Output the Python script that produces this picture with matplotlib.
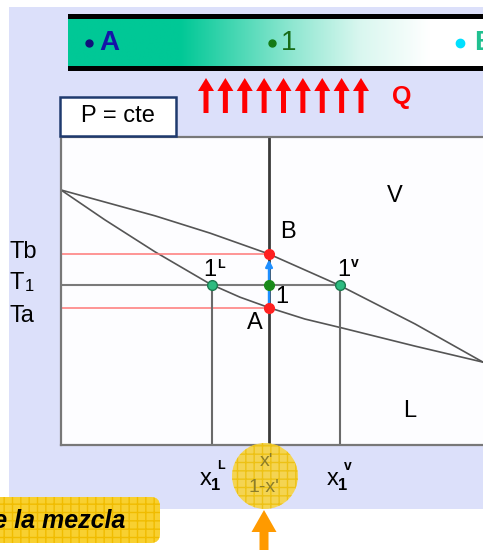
import matplotlib.pyplot as plt
import numpy as np
from matplotlib.patches import Rectangle, Circle, FancyArrow, FancyBboxPatch

plt.rcParams['font.family'] = ['Liberation Sans', 'DejaVu Sans']

# diagram values (composition of component 1 from 0 to 1, temperature in arbitrary units)
x_dew = [0.0, 0.223, 0.353, 0.493, 0.659, 0.839, 1.0]
T_dew = [82.8, 74.4, 68.8, 62.0, 51.9, 39.3, 26.9]
x_bub = [0.0, 0.104, 0.223, 0.353, 0.424, 0.495, 0.578, 0.666, 0.839, 1.0]
T_bub = [82.8, 73.1, 62.7, 52.3, 48.0, 44.5, 40.9, 38.0, 32.1, 26.9]

x_mix = 0.493
T_a = 44.5
T_b = 62.0
T_1 = 51.9
x1_L = 0.357
x1_V = 0.66
T_labels = ['Tb', 'T', 'Ta']
n_heat_arrows = 9

fig = plt.figure(figsize=(4.83, 5.5), dpi=100)
fig.patch.set_facecolor('white')

# background layer in pixel coords
ax0 = fig.add_axes([0, 0, 1, 1])
ax0.set_xlim(0, 483)
ax0.set_ylim(550, 0)
ax0.axis('off')
ax0.add_patch(Rectangle((9, 7), 480, 502, color='#dce0fa', lw=0))

# top gradient bar
cols = np.linspace(68, 483, 300)
white = np.interp(cols, [68, 180, 290, 360, 430, 483], [0, 0, 0.55, 0.85, 1, 1])
base = np.array([0, 200, 150]) / 255.0
grad = base[None, :] * (1 - white[:, None]) + white[:, None]
ax0.imshow(grad[None, :, :], extent=(68, 483, 66, 19), aspect='auto', zorder=2)
ax0.add_patch(Rectangle((68, 14), 420, 5, color='black', lw=0, zorder=3))
ax0.add_patch(Rectangle((68, 66), 420, 5, color='black', lw=0, zorder=3))
ax0.plot(89, 43, 'o', color='#10107a', ms=5, zorder=4)
ax0.text(99, 43, 'A', color='#1414a8', fontsize=20, fontweight='bold', va='center', zorder=4)
ax0.plot(272, 43, 'o', color='#147a14', ms=5, zorder=4)
ax0.text(281, 43, '1', color='#176b17', fontsize=20, va='center', zorder=4)
ax0.plot(460, 43, 'o', color='#00e0ff', ms=6, zorder=4)
ax0.text(474, 43, 'B', color='#20c090', fontsize=20, fontweight='bold', va='center', zorder=4)

# heat arrows
for xa in np.linspace(206, 361, n_heat_arrows):
    ax0.add_patch(FancyArrow(xa, 113, 0, -35, width=5, head_width=16, head_length=13,
                             length_includes_head=True, color='red', lw=0, zorder=3))
ax0.text(392, 97, 'Q', color='red', fontsize=18, fontweight='bold', va='center')

# phase diagram
ax1 = fig.add_axes([61 / 483, 105 / 550, 422 / 483, 308 / 550])
ax1.set_xlim(0, 1)
ax1.set_ylim(0, 100)
ax1.set_facecolor('#fdfdff')
ax1.set_xticks([])
ax1.set_yticks([])
for s in ['left', 'top', 'bottom']:
    ax1.spines[s].set_color('#787878')
    ax1.spines[s].set_linewidth(1.6)
ax1.spines['right'].set_visible(False)

ax1.plot(x_dew, T_dew, color='#555555', lw=1.2, solid_joinstyle='round')
ax1.plot(x_bub, T_bub, color='#555555', lw=1.2, solid_joinstyle='round')
ax1.axvline(x_mix, color='#3a3a3a', lw=2)
ax1.plot([0, x_mix], [T_b, T_b], color='#ff7878', lw=1.1)
ax1.plot([0, x_mix], [T_a, T_a], color='#ff7878', lw=1.1)
ax1.plot([0, x1_V], [T_1, T_1], color='#7a7a7a', lw=1.5)
ax1.plot([x1_L, x1_L], [0, T_1], color='#6a6a6a', lw=1.5)
ax1.plot([x1_V, x1_V], [0, T_1], color='#6a6a6a', lw=1.5)
ax1.annotate('', xy=(x_mix, T_b), xytext=(x_mix, T_a),
             arrowprops=dict(arrowstyle='-|>', color='#1e8fff', lw=1.8,
                             shrinkA=0, shrinkB=4, mutation_scale=10))
ax1.plot([x_mix, x_mix], [T_a, T_b], 'o', color='#ff2020', ms=7, zorder=5)
ax1.plot(x_mix, T_1, 'o', color='#1a8a1a', ms=7, zorder=5)
ax1.plot([x1_L, x1_V], [T_1, T_1], 'o', color='#2dbb80', mec='#1c7a50', ms=7, zorder=5)

lab = dict(fontsize=17, ha='center', va='center', textcoords='offset pixels')
ax1.annotate('B', (x_mix, T_b), xytext=(19, 22), **lab)
ax1.annotate('A', (x_mix, T_a), xytext=(-14, -15), **lab)
ax1.annotate('1', (x_mix, T_1), xytext=(13, -12), **lab)
ax1.annotate('1', (x1_L, T_1), xytext=(-2, 15), **lab)
ax1.annotate('L', (x1_L, T_1), xytext=(9, 20), fontsize=9, fontweight='bold',
             ha='center', va='center', textcoords='offset pixels')
ax1.annotate('1', (x1_V, T_1), xytext=(4, 15), **lab)
ax1.annotate('v', (x1_V, T_1), xytext=(15, 22), fontsize=10, fontweight='bold',
             ha='center', va='center', textcoords='offset pixels')
ax1.text(0.79, 81, 'V', fontsize=17, ha='center', va='center')
ax1.text(0.826, 11, 'L', fontsize=17, ha='center', va='center')

ytr = ax1.get_yaxis_transform()
ax1.text(-51 / 422, T_b + 0.6, T_labels[0], transform=ytr, fontsize=17, va='center', clip_on=False)
ax1.text(-51 / 422, T_1 + 0.6, T_labels[1], transform=ytr, fontsize=17, va='center', clip_on=False)
ax1.text(-36 / 422, T_1 - 0.6, '1', transform=ytr, fontsize=12, va='center', clip_on=False)
ax1.text(-51 / 422, T_a - 2.6, T_labels[2], transform=ytr, fontsize=17, va='center', clip_on=False)

# overlay layer
ax2 = fig.add_axes([0, 0, 1, 1])
ax2.set_xlim(0, 483)
ax2.set_ylim(550, 0)
ax2.axis('off')
ax2.patch.set_alpha(0)

ax2.add_patch(Rectangle((60, 97), 116, 39, facecolor='white', edgecolor='#1f3a6e', lw=1.8))
ax2.text(118, 116, 'P = cte', fontsize=17, ha='center', va='center')

# composition labels under the axis
ax2.text(206, 479, 'x', fontsize=17, ha='center', va='center')
ax2.text(216, 485, '1', fontsize=12, fontweight='bold', ha='center', va='center')
ax2.text(221, 466, 'L', fontsize=9, fontweight='bold', ha='center', va='center')
ax2.text(333, 479, 'x', fontsize=17, ha='center', va='center')
ax2.text(343, 485, '1', fontsize=12, fontweight='bold', ha='center', va='center')
ax2.text(348, 466, 'v', fontsize=10, fontweight='bold', ha='center', va='center')

ax2.add_patch(Circle((265, 476), 33, facecolor='#f7d444', edgecolor='#edc010',
                     hatch='++', lw=0, alpha=0.92))
ax2.text(267, 462, "x'", fontsize=14, color='#8c7d2a', ha='center', va='center')
ax2.text(264, 488, "1-x'", fontsize=14, color='#8c7d2a', ha='center', va='center')
ax2.add_patch(FancyArrow(264, 552, 0, -42, width=9, head_width=25, head_length=22,
                         length_includes_head=True, color='#ff9a00', lw=0))

ax2.add_patch(FancyBboxPatch((-10, 497), 170, 46, boxstyle='round,pad=0,rounding_size=9',
                             facecolor='#f8d030', edgecolor='#f0bc00', hatch='++', lw=0))
ax2.text(125, 521, 'de la mezcla', fontsize=18, fontweight='bold', fontstyle='italic',
         ha='right', va='center')

fig.savefig('out.png', dpi=100)
